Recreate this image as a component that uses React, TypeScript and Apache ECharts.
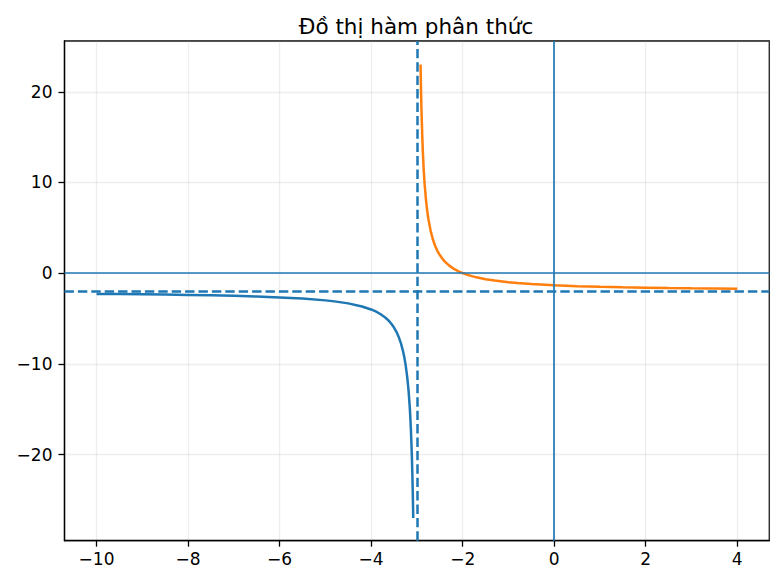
import React, { useEffect, useRef } from 'react';
import * as echarts from 'echarts';

// nhánh trái (x < -3)
const leftX = [-10, -9.5, -9, -8.5, -8, -7.5, -7, -6.5, -6, -5.5, -5, -4.8, -4.5, -4.2, -4, -3.9, -3.8, -3.7, -3.65, -3.6, -3.55, -3.5, -3.45, -3.4, -3.35, -3.3, -3.28, -3.25, -3.22, -3.2, -3.18, -3.16, -3.15, -3.14, -3.13, -3.12, -3.11, -3.1, -3.09, -3.08];
const leftY = [-2.29, -2.31, -2.33, -2.36, -2.4, -2.44, -2.5, -2.57, -2.67, -2.8, -3.0, -3.11, -3.33, -3.67, -4.0, -4.22, -4.5, -4.86, -5.08, -5.33, -5.64, -6.0, -6.44, -7.0, -7.71, -8.67, -9.14, -10.0, -11.1, -12.0, -13.1, -14.5, -15.3, -16.3, -17.4, -18.7, -20.2, -22.0, -24.2, -27.0];

// nhánh phải (x > -3)
const rightX = [-2.92, -2.91, -2.9, -2.88, -2.87, -2.85, -2.83, -2.8, -2.78, -2.75, -2.7, -2.65, -2.6, -2.55, -2.5, -2.45, -2.4, -2.3, -2.2, -2.1, -2, -1.9, -1.8, -1.7, -1.5, -1.3, -1, -0.8, -0.5, 0, 0.5, 1, 1.5, 2, 2.5, 3, 3.5, 4];
const rightY = [23.0, 20.2, 18.0, 14.7, 13.4, 11.3, 9.76, 8.0, 7.09, 6.0, 4.67, 3.71, 3.0, 2.44, 2.0, 1.64, 1.33, 0.86, 0.5, 0.22, 0.0, -0.18, -0.33, -0.46, -0.67, -0.82, -1.0, -1.09, -1.2, -1.33, -1.43, -1.5, -1.56, -1.6, -1.64, -1.67, -1.69, -1.71];

// tiệm cận và trục toạ độ
const asymX = -3;
const asymY = -2;

const xRange = [-10.7, 4.7];
const yRange = [-29.5, 25.6];

const BLUE = '#1f77b4';
const ORANGE = '#ff7f0e';
const FONT = 'DejaVu Sans';

const fmt = (v: number) => (v < 0 ? '\u2212' + Math.abs(v) : String(v));

const App: React.FC = () => {
  const chartRef = useRef<HTMLDivElement>(null);

  useEffect(() => {
    if (!chartRef.current) return;
    const chart = echarts.init(chartRef.current, null, { renderer: 'svg' });

    const axisCommon = {
      type: 'value' as const,
      axisLine: { show: true, onZero: false, lineStyle: { color: '#000', width: 1.3 } },
      axisTick: { show: true, inside: false, length: 6, lineStyle: { color: '#000', width: 1.3 } },
      splitLine: { show: true, lineStyle: { color: 'rgba(176,176,176,0.22)', width: 1.3 } },
      axisLabel: {
        color: '#000',
        fontSize: 17,
        fontFamily: FONT,
        showMinLabel: false,
        showMaxLabel: false,
        formatter: fmt,
      },
    };

    chart.setOption({
      animation: false,
      backgroundColor: '#fff',
      title: {
        text: 'Đồ thị hàm phân thức',
        left: 411,
        textAlign: 'center',
        top: 10,
        textStyle: { fontFamily: FONT, fontSize: 21.5, fontWeight: 'normal', color: '#000' },
      },
      grid: {
        left: 64.5,
        right: 11.7,
        top: 41,
        bottom: 44.3,
        show: true,
        borderColor: '#000',
        borderWidth: 1.3,
        backgroundColor: 'transparent',
      },
      xAxis: {
        ...axisCommon,
        min: xRange[0],
        max: xRange[1],
        splitNumber: 8,
        axisLabel: { ...axisCommon.axisLabel, margin: 10 },
      },
      yAxis: {
        ...axisCommon,
        min: yRange[0],
        max: yRange[1],
        splitNumber: 5,
        axisLabel: { ...axisCommon.axisLabel, margin: 12 },
      },
      series: [
        {
          type: 'line',
          data: leftX.map((x, i) => [x, leftY[i]]),
          symbol: 'none',
          lineStyle: { color: BLUE, width: 2.5 },
          itemStyle: { color: BLUE },
          z: 3,
          markLine: {
            silent: true,
            symbol: 'none',
            label: { show: false },
            animation: false,
            data: [
              { xAxis: 0, lineStyle: { color: BLUE, width: 1.7, type: 'solid' } },
              { yAxis: 0, lineStyle: { color: BLUE, width: 1.7, type: 'solid' } },
              { xAxis: asymX, lineStyle: { color: BLUE, width: 2.5, type: [9.4, 4] } },
              { yAxis: asymY, lineStyle: { color: BLUE, width: 2.5, type: [9.4, 4] } },
            ],
          },
        },
        {
          type: 'line',
          data: rightX.map((x, i) => [x, rightY[i]]),
          symbol: 'none',
          lineStyle: { color: ORANGE, width: 2.5 },
          itemStyle: { color: ORANGE },
          z: 3,
        },
      ],
    });

    return () => {
      chart.dispose();
    };
  }, []);

  return (
    <div
      ref={chartRef}
      style={{ position: 'fixed', left: 0, top: 0, width: 781, height: 585, background: '#fff' }}
    />
  );
};

export default App;
